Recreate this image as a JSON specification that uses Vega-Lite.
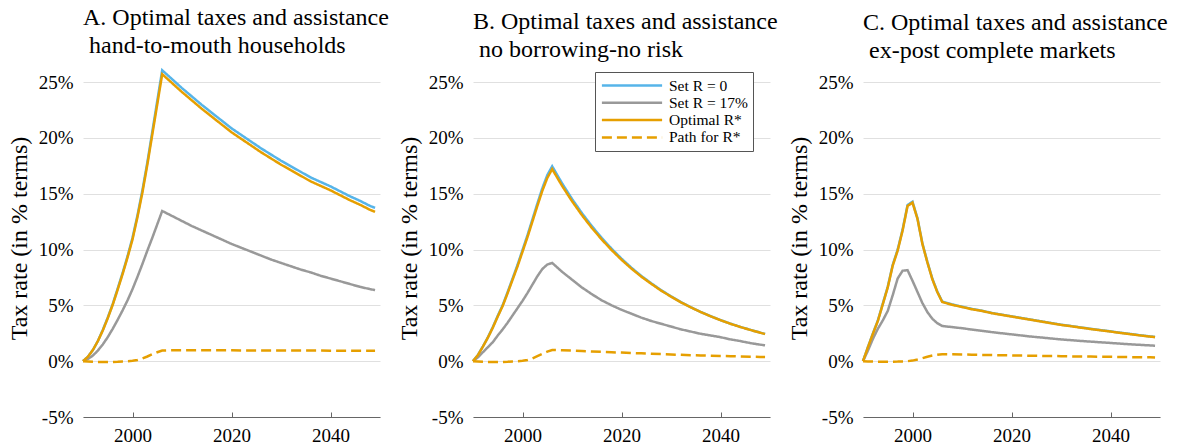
{
  "$schema": "https://vega.github.io/schema/vega-lite/v6.json",
  "background": "white",
  "padding": {"left": 7, "top": 6, "right": 0, "bottom": 0},
  "config": {
    "view": {"stroke": null},
    "font": "Liberation Serif",
    "axis": {"labelFont": "Liberation Serif", "labelFontSize": 19, "labelColor": "#000", "titleFont": "Liberation Serif", "titleFontSize": 24, "titleFontWeight": "normal", "titleColor": "#000"},
    "title": {"font": "Liberation Serif", "fontSize": 24, "fontWeight": "normal", "color": "#000", "anchor": "start", "frame": "group", "lineHeight": 28}
  },
  "data": {"values": [
    {"panel":"A","year":1990,"r0":0,"r17":0,"opt":0,"path":0},
    {"panel":"A","year":1991,"r0":0.4,"r17":0.2,"opt":0.4,"path":-0.02},
    {"panel":"A","year":1992,"r0":1.0,"r17":0.5,"opt":1.0,"path":-0.05},
    {"panel":"A","year":1993,"r0":1.8,"r17":0.95,"opt":1.8,"path":-0.07},
    {"panel":"A","year":1994,"r0":2.8,"r17":1.5,"opt":2.75,"path":-0.08},
    {"panel":"A","year":1995,"r0":3.9,"r17":2.15,"opt":3.85,"path":-0.08},
    {"panel":"A","year":1996,"r0":5.1,"r17":2.9,"opt":5.05,"path":-0.07},
    {"panel":"A","year":1997,"r0":6.5,"r17":3.7,"opt":6.4,"path":-0.05},
    {"panel":"A","year":1998,"r0":7.9,"r17":4.55,"opt":7.8,"path":-0.02},
    {"panel":"A","year":1999,"r0":9.4,"r17":5.45,"opt":9.3,"path":0},
    {"panel":"A","year":2000,"r0":11.05,"r17":6.45,"opt":10.9,"path":0.03},
    {"panel":"A","year":2001,"r0":13.05,"r17":7.55,"opt":12.9,"path":0.1},
    {"panel":"A","year":2002,"r0":15.3,"r17":8.7,"opt":15.1,"path":0.25},
    {"panel":"A","year":2003,"r0":17.8,"r17":9.9,"opt":17.6,"path":0.42},
    {"panel":"A","year":2004,"r0":20.55,"r17":11.05,"opt":20.3,"path":0.62},
    {"panel":"A","year":2005,"r0":23.3,"r17":12.25,"opt":23.0,"path":0.8},
    {"panel":"A","year":2006,"r0":26.05,"r17":13.45,"opt":25.7,"path":0.95},
    {"panel":"A","year":2008,"r0":25.25,"r17":13.0,"opt":24.9,"path":0.97},
    {"panel":"A","year":2010,"r0":24.45,"r17":12.55,"opt":24.1,"path":0.97},
    {"panel":"A","year":2012,"r0":23.7,"r17":12.1,"opt":23.35,"path":0.97},
    {"panel":"A","year":2014,"r0":22.95,"r17":11.7,"opt":22.6,"path":0.97},
    {"panel":"A","year":2016,"r0":22.25,"r17":11.3,"opt":21.9,"path":0.97},
    {"panel":"A","year":2018,"r0":21.55,"r17":10.9,"opt":21.2,"path":0.97},
    {"panel":"A","year":2020,"r0":20.85,"r17":10.5,"opt":20.5,"path":0.97},
    {"panel":"A","year":2022,"r0":20.25,"r17":10.15,"opt":19.9,"path":0.96},
    {"panel":"A","year":2024,"r0":19.65,"r17":9.8,"opt":19.3,"path":0.96},
    {"panel":"A","year":2026,"r0":19.05,"r17":9.45,"opt":18.7,"path":0.96},
    {"panel":"A","year":2028,"r0":18.5,"r17":9.1,"opt":18.15,"path":0.96},
    {"panel":"A","year":2030,"r0":17.95,"r17":8.8,"opt":17.6,"path":0.96},
    {"panel":"A","year":2032,"r0":17.45,"r17":8.5,"opt":17.1,"path":0.95},
    {"panel":"A","year":2034,"r0":16.95,"r17":8.2,"opt":16.6,"path":0.95},
    {"panel":"A","year":2036,"r0":16.45,"r17":7.95,"opt":16.1,"path":0.95},
    {"panel":"A","year":2038,"r0":16.05,"r17":7.65,"opt":15.7,"path":0.95},
    {"panel":"A","year":2040,"r0":15.65,"r17":7.4,"opt":15.3,"path":0.94},
    {"panel":"A","year":2042,"r0":15.2,"r17":7.15,"opt":14.85,"path":0.94},
    {"panel":"A","year":2044,"r0":14.75,"r17":6.9,"opt":14.4,"path":0.94},
    {"panel":"A","year":2046,"r0":14.35,"r17":6.65,"opt":14.0,"path":0.93},
    {"panel":"A","year":2048,"r0":13.9,"r17":6.45,"opt":13.55,"path":0.93},
    {"panel":"A","year":2049,"r0":13.73,"r17":6.36,"opt":13.37,"path":0.93},
    {"panel":"B","year":1990,"r0":0,"r17":0,"opt":0,"path":0},
    {"panel":"B","year":1991,"r0":0.56,"r17":0.35,"opt":0.55,"path":-0.02},
    {"panel":"B","year":1992,"r0":1.32,"r17":0.8,"opt":1.3,"path":-0.05},
    {"panel":"B","year":1993,"r0":2.13,"r17":1.25,"opt":2.1,"path":-0.07},
    {"panel":"B","year":1994,"r0":3.05,"r17":1.7,"opt":3.0,"path":-0.08},
    {"panel":"B","year":1995,"r0":4.06,"r17":2.3,"opt":4.0,"path":-0.08},
    {"panel":"B","year":1996,"r0":5.02,"r17":2.85,"opt":4.95,"path":-0.07},
    {"panel":"B","year":1997,"r0":6.19,"r17":3.45,"opt":6.1,"path":-0.05},
    {"panel":"B","year":1998,"r0":7.41,"r17":4.1,"opt":7.3,"path":-0.02},
    {"panel":"B","year":1999,"r0":8.63,"r17":4.75,"opt":8.5,"path":0},
    {"panel":"B","year":2000,"r0":9.95,"r17":5.4,"opt":9.8,"path":0.03},
    {"panel":"B","year":2001,"r0":11.27,"r17":6.1,"opt":11.1,"path":0.1},
    {"panel":"B","year":2002,"r0":12.69,"r17":6.85,"opt":12.5,"path":0.25},
    {"panel":"B","year":2003,"r0":14.11,"r17":7.6,"opt":13.9,"path":0.45},
    {"panel":"B","year":2004,"r0":15.48,"r17":8.25,"opt":15.25,"path":0.65},
    {"panel":"B","year":2005,"r0":16.65,"r17":8.65,"opt":16.4,"path":0.85},
    {"panel":"B","year":2006,"r0":17.45,"r17":8.8,"opt":17.2,"path":1.0},
    {"panel":"B","year":2008,"r0":15.92,"r17":8.0,"opt":15.7,"path":0.98},
    {"panel":"B","year":2010,"r0":14.53,"r17":7.3,"opt":14.33,"path":0.95},
    {"panel":"B","year":2012,"r0":13.26,"r17":6.6,"opt":13.08,"path":0.91},
    {"panel":"B","year":2014,"r0":12.1,"r17":6.0,"opt":11.94,"path":0.87},
    {"panel":"B","year":2016,"r0":11.04,"r17":5.45,"opt":10.9,"path":0.83},
    {"panel":"B","year":2018,"r0":10.07,"r17":5.0,"opt":9.95,"path":0.8},
    {"panel":"B","year":2020,"r0":9.18,"r17":4.6,"opt":9.08,"path":0.77},
    {"panel":"B","year":2022,"r0":8.37,"r17":4.25,"opt":8.29,"path":0.73},
    {"panel":"B","year":2024,"r0":7.63,"r17":3.9,"opt":7.57,"path":0.7},
    {"panel":"B","year":2026,"r0":6.98,"r17":3.6,"opt":6.93,"path":0.66},
    {"panel":"B","year":2028,"r0":6.36,"r17":3.35,"opt":6.32,"path":0.63},
    {"panel":"B","year":2030,"r0":5.81,"r17":3.1,"opt":5.78,"path":0.6},
    {"panel":"B","year":2032,"r0":5.29,"r17":2.85,"opt":5.27,"path":0.57},
    {"panel":"B","year":2034,"r0":4.83,"r17":2.65,"opt":4.82,"path":0.54},
    {"panel":"B","year":2036,"r0":4.41,"r17":2.45,"opt":4.4,"path":0.51},
    {"panel":"B","year":2038,"r0":4.03,"r17":2.3,"opt":4.02,"path":0.49},
    {"panel":"B","year":2040,"r0":3.68,"r17":2.15,"opt":3.67,"path":0.47},
    {"panel":"B","year":2042,"r0":3.36,"r17":1.95,"opt":3.35,"path":0.45},
    {"panel":"B","year":2044,"r0":3.07,"r17":1.8,"opt":3.06,"path":0.42},
    {"panel":"B","year":2046,"r0":2.81,"r17":1.62,"opt":2.8,"path":0.4},
    {"panel":"B","year":2048,"r0":2.56,"r17":1.48,"opt":2.55,"path":0.38},
    {"panel":"B","year":2049,"r0":2.44,"r17":1.42,"opt":2.43,"path":0.37},
    {"panel":"C","year":1990,"r0":0,"r17":0,"opt":0,"path":0},
    {"panel":"C","year":1991,"r0":1.27,"r17":0.95,"opt":1.25,"path":-0.02},
    {"panel":"C","year":1992,"r0":2.48,"r17":2.0,"opt":2.45,"path":-0.04},
    {"panel":"C","year":1993,"r0":3.64,"r17":2.9,"opt":3.6,"path":-0.05},
    {"panel":"C","year":1994,"r0":5.15,"r17":3.65,"opt":5.1,"path":-0.06},
    {"panel":"C","year":1995,"r0":6.66,"r17":4.5,"opt":6.6,"path":-0.06},
    {"panel":"C","year":1996,"r0":8.62,"r17":5.9,"opt":8.55,"path":-0.05},
    {"panel":"C","year":1997,"r0":9.98,"r17":7.4,"opt":9.9,"path":-0.04},
    {"panel":"C","year":1998,"r0":11.78,"r17":8.1,"opt":11.7,"path":-0.02},
    {"panel":"C","year":1999,"r0":13.98,"r17":8.15,"opt":13.9,"path":0},
    {"panel":"C","year":2000,"r0":14.28,"r17":7.2,"opt":14.2,"path":0.05},
    {"panel":"C","year":2001,"r0":12.8,"r17":6.2,"opt":12.75,"path":0.15},
    {"panel":"C","year":2002,"r0":10.55,"r17":5.2,"opt":10.5,"path":0.27},
    {"panel":"C","year":2003,"r0":8.9,"r17":4.4,"opt":8.85,"path":0.4},
    {"panel":"C","year":2004,"r0":7.4,"r17":3.8,"opt":7.35,"path":0.5},
    {"panel":"C","year":2005,"r0":6.24,"r17":3.4,"opt":6.2,"path":0.58},
    {"panel":"C","year":2006,"r0":5.34,"r17":3.15,"opt":5.3,"path":0.62},
    {"panel":"C","year":2008,"r0":5.08,"r17":3.05,"opt":5.05,"path":0.61},
    {"panel":"C","year":2010,"r0":4.88,"r17":2.95,"opt":4.85,"path":0.6},
    {"panel":"C","year":2012,"r0":4.68,"r17":2.83,"opt":4.65,"path":0.58},
    {"panel":"C","year":2014,"r0":4.52,"r17":2.72,"opt":4.5,"path":0.56},
    {"panel":"C","year":2016,"r0":4.32,"r17":2.6,"opt":4.3,"path":0.55},
    {"panel":"C","year":2018,"r0":4.17,"r17":2.5,"opt":4.15,"path":0.53},
    {"panel":"C","year":2020,"r0":4.02,"r17":2.4,"opt":4.0,"path":0.52},
    {"panel":"C","year":2022,"r0":3.87,"r17":2.3,"opt":3.85,"path":0.5},
    {"panel":"C","year":2024,"r0":3.72,"r17":2.2,"opt":3.7,"path":0.49},
    {"panel":"C","year":2026,"r0":3.57,"r17":2.12,"opt":3.55,"path":0.47},
    {"panel":"C","year":2028,"r0":3.42,"r17":2.03,"opt":3.4,"path":0.46},
    {"panel":"C","year":2030,"r0":3.27,"r17":1.95,"opt":3.25,"path":0.45},
    {"panel":"C","year":2032,"r0":3.15,"r17":1.88,"opt":3.13,"path":0.43},
    {"panel":"C","year":2034,"r0":3.02,"r17":1.81,"opt":3.0,"path":0.42},
    {"panel":"C","year":2036,"r0":2.9,"r17":1.75,"opt":2.88,"path":0.41},
    {"panel":"C","year":2038,"r0":2.78,"r17":1.69,"opt":2.76,"path":0.4},
    {"panel":"C","year":2040,"r0":2.67,"r17":1.63,"opt":2.65,"path":0.39},
    {"panel":"C","year":2042,"r0":2.55,"r17":1.57,"opt":2.53,"path":0.37},
    {"panel":"C","year":2044,"r0":2.44,"r17":1.51,"opt":2.42,"path":0.36},
    {"panel":"C","year":2046,"r0":2.32,"r17":1.46,"opt":2.3,"path":0.35},
    {"panel":"C","year":2048,"r0":2.22,"r17":1.41,"opt":2.2,"path":0.34},
    {"panel":"C","year":2049,"r0":2.17,"r17":1.38,"opt":2.15,"path":0.33}
  ]},
  "resolve": {"legend": {"color": "independent", "strokeDash": "independent"}},
  "spacing": 93,
  "bounds": "flush",
  "hconcat": [
    {
      "width": 297, "height": 335,
      "title": {"text": ["A. Optimal taxes and assistance", "\u200b\u00a0hand-to-mouth households"], "offset": 7},
      "transform": [{"filter": "datum.panel === 'A'"}, {"fold": ["r0", "r17", "opt", "path"], "as": ["series", "value"]}],
      "mark": {"type": "line", "strokeWidth": 2.5},
      "encoding": {
        "x": {"field": "year", "type": "quantitative", "scale": {"domain": [1990, 2050], "nice": false, "zero": false},
              "axis": {"values": [2000, 2020, 2040], "format": "d", "grid": false, "title": null, "domainColor": "#666", "tickColor": "#666", "tickSize": -5, "labelPadding": 14, "zindex": 1}},
        "y": {"field": "value", "type": "quantitative", "scale": {"domain": [-5, 25], "nice": false},
              "axis": {"values": [-5, 0, 5, 10, 15, 20, 25], "labelExpr": "datum.value + '%'", "grid": true, "gridColor": "#e0e0e0", "ticks": false, "tickSize": 0, "domain": false, "labelPadding": 10, "title": "Tax rate (in % terms)", "titleX": -64, "titleY": 156, "titleBaseline": "middle"}},
        "color": {"field": "series", "type": "nominal", "scale": {"domain": ["r0", "r17", "opt", "path"], "range": ["#56B4E9", "#999999", "#E69F00", "#E69F00"]}, "legend": null},
        "strokeDash": {"field": "series", "type": "nominal", "scale": {"domain": ["r0", "r17", "opt", "path"], "range": [[1, 0], [1, 0], [1, 0], [10, 5]]}, "legend": null}
      }
    },
    {
      "width": 297, "height": 335,
      "title": {"text": ["B. Optimal taxes and assistance", "\u200b\u00a0no borrowing-no risk"], "offset": 9.5},
      "transform": [{"filter": "datum.panel === 'B'"}, {"fold": ["r0", "r17", "opt", "path"], "as": ["series", "value"]}],
      "mark": {"type": "line", "strokeWidth": 2.5},
      "encoding": {
        "x": {"field": "year", "type": "quantitative", "scale": {"domain": [1990, 2050], "nice": false, "zero": false},
              "axis": {"values": [2000, 2020, 2040], "format": "d", "grid": false, "title": null, "domainColor": "#666", "tickColor": "#666", "tickSize": -5, "labelPadding": 14, "zindex": 1}},
        "y": {"field": "value", "type": "quantitative", "scale": {"domain": [-5, 25], "nice": false},
              "axis": {"values": [-5, 0, 5, 10, 15, 20, 25], "labelExpr": "datum.value + '%'", "grid": true, "gridColor": "#e0e0e0", "ticks": false, "tickSize": 0, "domain": false, "labelPadding": 10, "title": "Tax rate (in % terms)", "titleX": -64, "titleY": 156, "titleBaseline": "middle"}},
        "color": {"field": "series", "type": "nominal", "scale": {"domain": ["r0", "r17", "opt", "path"], "range": ["#56B4E9", "#999999", "#E69F00", "#E69F00"]},
                  "legend": {"orient": "none", "legendX": 122, "legendY": -10, "title": null, "labelExpr": "{'r0': 'Set R = 0', 'r17': 'Set R = 17%', 'opt': 'Optimal R*', 'path': 'Path for R*'}[datum.label]", "symbolType": "M-4.3,0H4.3", "symbolSize": 196, "symbolStrokeWidth": 2.5, "symbolOffset": 23.5, "labelOffset": 28.5, "labelFont": "Liberation Serif", "labelFontSize": 15.5, "labelColor": "#000", "strokeColor": "#555", "fillColor": "#fff", "padding": 5, "rowPadding": 0.3}},
        "strokeDash": {"field": "series", "type": "nominal", "scale": {"domain": ["r0", "r17", "opt", "path"], "range": [[1, 0], [1, 0], [1, 0], [10, 5]]},
                  "legend": {"orient": "none", "legendX": 122, "legendY": -10, "title": null, "labelExpr": "{'r0': 'Set R = 0', 'r17': 'Set R = 17%', 'opt': 'Optimal R*', 'path': 'Path for R*'}[datum.label]", "symbolType": "M-4.3,0H4.3", "symbolSize": 196, "symbolStrokeWidth": 2.5, "symbolOffset": 23.5, "labelOffset": 28.5, "labelFont": "Liberation Serif", "labelFontSize": 15.5, "labelColor": "#000", "strokeColor": "#555", "fillColor": "#fff", "padding": 5, "rowPadding": 0.3}}
      }
    },
    {
      "width": 297, "height": 335,
      "title": {"text": ["C. Optimal taxes and assistance", "\u200b\u00a0ex-post complete markets"], "offset": 10.5},
      "transform": [{"filter": "datum.panel === 'C'"}, {"fold": ["r0", "r17", "opt", "path"], "as": ["series", "value"]}],
      "mark": {"type": "line", "strokeWidth": 2.5},
      "encoding": {
        "x": {"field": "year", "type": "quantitative", "scale": {"domain": [1990, 2050], "nice": false, "zero": false},
              "axis": {"values": [2000, 2020, 2040], "format": "d", "grid": false, "title": null, "domainColor": "#666", "tickColor": "#666", "tickSize": -5, "labelPadding": 14, "zindex": 1}},
        "y": {"field": "value", "type": "quantitative", "scale": {"domain": [-5, 25], "nice": false},
              "axis": {"values": [-5, 0, 5, 10, 15, 20, 25], "labelExpr": "datum.value + '%'", "grid": true, "gridColor": "#e0e0e0", "ticks": false, "tickSize": 0, "domain": false, "labelPadding": 10, "title": "Tax rate (in % terms)", "titleX": -64, "titleY": 156, "titleBaseline": "middle"}},
        "color": {"field": "series", "type": "nominal", "scale": {"domain": ["r0", "r17", "opt", "path"], "range": ["#56B4E9", "#999999", "#E69F00", "#E69F00"]}, "legend": null},
        "strokeDash": {"field": "series", "type": "nominal", "scale": {"domain": ["r0", "r17", "opt", "path"], "range": [[1, 0], [1, 0], [1, 0], [10, 5]]}, "legend": null}
      }
    }
  ]
}
